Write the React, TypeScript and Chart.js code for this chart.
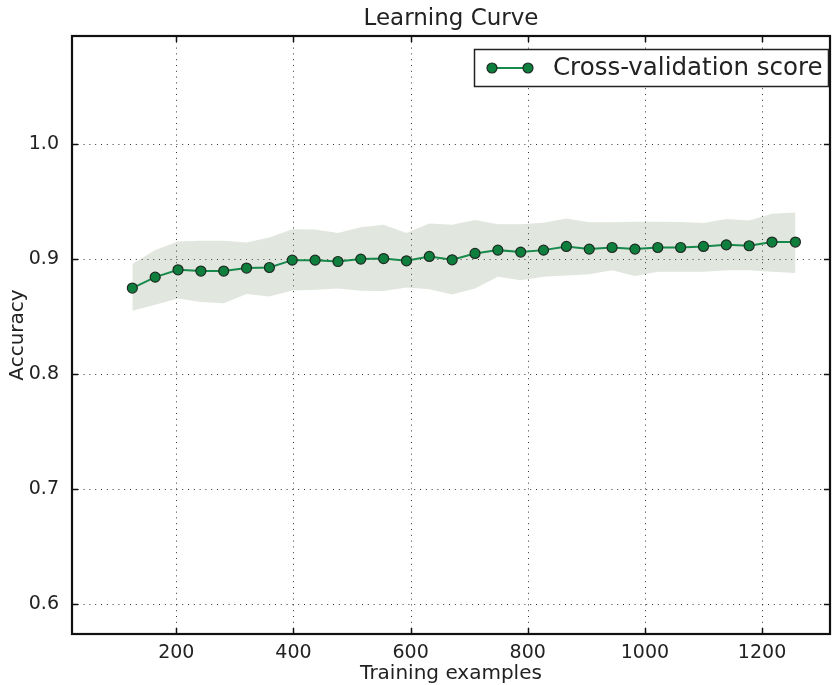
import React, { useEffect, useRef } from "react";
import { Chart, registerables } from "chart.js";

Chart.register(...registerables);

const FONT = "'DejaVu Sans', 'Liberation Sans', sans-serif";
const TEXT = "#222222";

const TRAIN_SIZES = [125, 164, 203, 242, 281, 320, 359, 398, 437, 476, 515, 554, 593, 632, 671, 710, 749, 788, 827, 866, 905, 944, 983, 1022, 1061, 1100, 1139, 1178, 1217, 1257];
const CV_MEAN = [0.8748, 0.8843, 0.8907, 0.8896, 0.8896, 0.8922, 0.8927, 0.8991, 0.8991, 0.8979, 0.9000, 0.9005, 0.8985, 0.9023, 0.8994, 0.9049, 0.9078, 0.9061, 0.9078, 0.9110, 0.9087, 0.9101, 0.9087, 0.9101, 0.9101, 0.9110, 0.9124, 0.9116, 0.9148, 0.9148];
const CV_UPPER = [0.8957, 0.9080, 0.9153, 0.9160, 0.9160, 0.9144, 0.9188, 0.9260, 0.9257, 0.9226, 0.9278, 0.9298, 0.9226, 0.9310, 0.9298, 0.9340, 0.9304, 0.9302, 0.9316, 0.9354, 0.9320, 0.9320, 0.9324, 0.9324, 0.9322, 0.9313, 0.9348, 0.9336, 0.9394, 0.9405];
const CV_LOWER = [0.8550, 0.8603, 0.8658, 0.8626, 0.8617, 0.8696, 0.8675, 0.8728, 0.8733, 0.8745, 0.8725, 0.8723, 0.8754, 0.8737, 0.8693, 0.8745, 0.8846, 0.8817, 0.8846, 0.8858, 0.8868, 0.8904, 0.8852, 0.8889, 0.8889, 0.8889, 0.8904, 0.8904, 0.8889, 0.8880];
const X_TICKS = [200, 400, 600, 800, 1000, 1200];
const Y_TICKS = [0.6, 0.7, 0.8, 0.9, 1.0];
const SERIES_LABEL = "Cross-validation score";
const TITLE = "Learning Curve";

const GREEN_FILL = "#0f7f3e";
const GREEN_LINE = "#17894a";
const BAND = "rgba(90,118,74,0.18)";

const framePlugin = {
  id: "framePlugin",
  beforeDatasetsDraw(chart: any) {
    const { ctx, chartArea, scales } = chart;
    const { left, right, top, bottom } = chartArea;
    ctx.save();
    ctx.strokeStyle = "rgba(0,0,0,0.8)";
    ctx.lineWidth = 1;
    ctx.setLineDash([1, 4.8]);
    scales.x.ticks.forEach((t: any) => {
      const px = Math.round(scales.x.getPixelForValue(t.value)) + 0.5;
      ctx.beginPath();
      ctx.moveTo(px, top);
      ctx.lineTo(px, bottom);
      ctx.stroke();
    });
    scales.y.ticks.forEach((t: any) => {
      const py = Math.round(scales.y.getPixelForValue(t.value)) + 0.5;
      ctx.beginPath();
      ctx.moveTo(left, py);
      ctx.lineTo(right, py);
      ctx.stroke();
    });
    ctx.restore();
  },
  afterDatasetsDraw(chart: any) {
    const { ctx, chartArea, scales } = chart;
    const { left, right, top, bottom } = chartArea;
    ctx.save();
    ctx.setLineDash([]);
    ctx.strokeStyle = "#111111";
    ctx.lineWidth = 1.5;
    const tl = 6;
    scales.x.ticks.forEach((t: any) => {
      const px = Math.round(scales.x.getPixelForValue(t.value)) + 0.5;
      ctx.beginPath();
      ctx.moveTo(px, bottom);
      ctx.lineTo(px, bottom - tl);
      ctx.moveTo(px, top);
      ctx.lineTo(px, top + tl);
      ctx.stroke();
    });
    scales.y.ticks.forEach((t: any) => {
      const py = Math.round(scales.y.getPixelForValue(t.value)) + 0.5;
      ctx.beginPath();
      ctx.moveTo(left, py);
      ctx.lineTo(left + tl, py);
      ctx.moveTo(right, py);
      ctx.lineTo(right - tl, py);
      ctx.stroke();
    });
    ctx.lineWidth = 2.2;
    ctx.strokeStyle = "#111111";
    ctx.strokeRect(left, top, right - left, bottom - top);
    ctx.restore();
  },
  afterDraw(chart: any) {
    const { ctx, chartArea } = chart;
    ctx.save();
    // title centred over the plotting area
    ctx.fillStyle = TEXT;
    ctx.font = `23px ${FONT}`;
    ctx.textAlign = "center";
    ctx.textBaseline = "middle";
    ctx.fillText(TITLE, (chartArea.left + chartArea.right) / 2, 19);

    // legend
    const bx = 474.5, by = 49.5, bw = 354, bh = 37;
    ctx.fillStyle = "#ffffff";
    ctx.fillRect(bx, by, bw, bh);
    ctx.strokeStyle = "#222222";
    ctx.lineWidth = 1.5;
    ctx.strokeRect(bx, by, bw, bh);
    const my = by + bh / 2;
    ctx.strokeStyle = GREEN_LINE;
    ctx.lineWidth = 2;
    ctx.beginPath();
    ctx.moveTo(492, my);
    ctx.lineTo(528, my);
    ctx.stroke();
    [492, 528].forEach((cx) => {
      ctx.beginPath();
      ctx.arc(cx, my, 5, 0, Math.PI * 2);
      ctx.fillStyle = GREEN_FILL;
      ctx.fill();
      ctx.lineWidth = 1.2;
      ctx.strokeStyle = "#1d2b22";
      ctx.stroke();
    });
    ctx.fillStyle = TEXT;
    ctx.font = `24.5px ${FONT}`;
    ctx.textAlign = "left";
    ctx.textBaseline = "middle";
    ctx.fillText(SERIES_LABEL, 553, my + 1);
    ctx.restore();
  },
};

export default function App() {
  const ref = useRef<HTMLCanvasElement | null>(null);

  useEffect(() => {
    if (!ref.current) return;
    const meanPts = TRAIN_SIZES.map((x, i) => ({ x, y: CV_MEAN[i] }));
    const upPts = TRAIN_SIZES.map((x, i) => ({ x, y: CV_UPPER[i] }));
    const loPts = TRAIN_SIZES.map((x, i) => ({ x, y: CV_LOWER[i] }));

    const chart = new Chart(ref.current, {
      type: "line",
      data: {
        datasets: [
          {
            label: "upper",
            data: upPts,
            borderWidth: 0,
            pointRadius: 0,
            backgroundColor: BAND,
            borderColor: "rgba(0,0,0,0)",
            fill: "+1",
            order: 3,
          },
          {
            label: "lower",
            data: loPts,
            borderWidth: 0,
            pointRadius: 0,
            borderColor: "rgba(0,0,0,0)",
            fill: false,
            order: 2,
          },
          {
            label: SERIES_LABEL,
            data: meanPts,
            borderColor: GREEN_LINE,
            borderWidth: 2,
            pointRadius: 5,
            pointBackgroundColor: GREEN_FILL,
            pointBorderColor: "#1d2b22",
            pointBorderWidth: 1.2,
            fill: false,
            tension: 0,
            order: 1,
          },
        ],
      },
      options: {
        responsive: false,
        animation: false,
        events: [],
        layout: { autoPadding: false, padding: { left: 0, right: 3, top: 36, bottom: 0 } },
        plugins: {
          legend: { display: false },
          tooltip: { enabled: false },
          title: { display: false },
        },
        scales: {
          x: {
            type: "linear",
            min: 22,
            max: 1316,
            grid: { display: false },
            border: { display: false },
            afterBuildTicks: (s: any) => {
              s.ticks = X_TICKS.map((v) => ({ value: v }));
            },
            afterFit: (s: any) => {
              s.height = 51;
            },
            ticks: {
              color: TEXT,
              font: { family: FONT, size: 19 },
              padding: 0,
              maxRotation: 0,
              autoSkip: false,
              callback: (v: any) => String(v),
            },
            title: {
              display: true,
              text: "Training examples",
              color: TEXT,
              font: { family: FONT, size: 20 },
              padding: { top: 0, bottom: -1 },
            },
          },
          y: {
            type: "linear",
            min: 0.574,
            max: 1.094,
            grid: { display: false },
            border: { display: false },
            afterBuildTicks: (s: any) => {
              s.ticks = Y_TICKS.map((v) => ({ value: v }));
            },
            afterFit: (s: any) => {
              s.width = 72;
            },
            ticks: {
              color: TEXT,
              font: { family: FONT, size: 19 },
              padding: 5,
              autoSkip: false,
              callback: (v: any) => Number(v).toFixed(1),
            },
            title: {
              display: true,
              text: "Accuracy",
              color: TEXT,
              font: { family: FONT, size: 20 },
              padding: { top: 6, bottom: 0 },
            },
          },
        },
      },
      plugins: [framePlugin],
    } as any);
    return () => chart.destroy();
  }, []);

  return (
    <div style={{ position: "fixed", left: 0, top: 0, width: 833, height: 685, background: "#fff" }}>
      <canvas ref={ref} width={833} height={685} style={{ display: "block" }} />
    </div>
  );
}
